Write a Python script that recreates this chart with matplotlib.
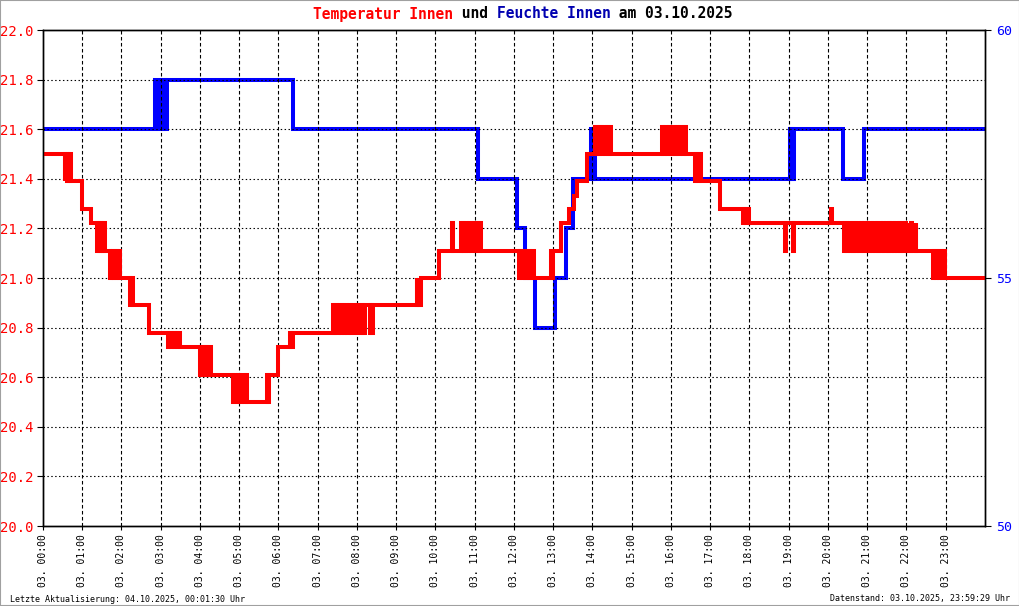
"""
Temperatur / Feuchte Innen, 03.10.2025 -- step chart with twin y axes.
"""
import matplotlib
matplotlib.use("Agg")
import matplotlib.pyplot as plt
from matplotlib.patches import Rectangle

MONO = "DejaVu Sans Mono"
RED = "#ff0000"
BLUE = "#0000ff"

# temperature change points (hour of day, deg C), drawn as post-steps
temp_hours = [
    0.00,
    0.55, 0.57, 0.62, 0.64, 0.67, 0.69, 0.71,
    0.99, 1.22,
    1.37, 1.39, 1.42, 1.45, 1.47, 1.50, 1.52, 1.55, 1.57,
    1.70, 1.72, 1.76, 1.79, 1.82, 1.85, 1.88, 1.91, 1.95,
    2.22, 2.25, 2.30, 2.69,
    3.18, 3.21, 3.25, 3.29, 3.33, 3.37, 3.41, 3.44, 3.48,
    3.99, 4.02, 4.06, 4.09, 4.12, 4.16, 4.19, 4.23, 4.27,
    4.83, 4.86, 4.93, 4.97, 5.03, 5.07, 5.12, 5.16, 5.19,
    5.70, 5.72, 5.75, 6.00, 6.30, 6.32, 6.36,
    7.38, 7.41, 7.45, 7.50, 7.54, 7.58, 7.62, 7.66, 7.70, 7.75, 7.79, 7.84,
    7.88, 7.93, 7.97, 7.99, 8.02, 8.09, 8.13, 8.16, 8.20, 8.32, 8.36, 8.38, 8.40,
    9.52, 9.54, 9.57, 9.59, 9.62, 10.08,
    10.42, 10.45, 10.64, 10.67, 10.70, 10.73, 10.77, 10.81, 10.85, 10.90,
    10.95, 11.00, 11.03, 11.07, 11.10, 11.14, 11.17, 11.21,
    12.12, 12.15, 12.19, 12.23, 12.27, 12.30, 12.34, 12.37, 12.40, 12.47, 12.50,
    12.94, 12.97, 13.00, 13.21, 13.39, 13.54, 13.60, 13.85,
    14.06, 14.09, 14.12, 14.16, 14.19, 14.24, 14.27, 14.33, 14.36, 14.40, 14.43, 14.48,
    15.76, 15.80, 15.84, 15.90, 15.94, 16.00, 16.04, 16.10, 16.13, 16.19, 16.23,
    16.30, 16.33, 16.37,
    16.62, 16.64, 16.70, 16.72, 16.76, 17.24,
    17.83, 17.86, 17.90, 17.93, 17.99,
    18.90, 18.94, 19.10, 19.14, 20.07, 20.10,
    20.41, 20.44, 20.49, 20.52, 20.56, 20.61, 20.63, 20.67, 20.72, 20.75, 20.79,
    20.84, 20.87, 20.91, 20.96, 20.99, 21.03, 21.08, 21.11, 21.15, 21.19, 21.24,
    21.27, 21.31, 21.36, 21.39, 21.43, 21.47, 21.52, 21.55, 21.59, 21.64, 21.67,
    21.71, 21.75, 21.80, 21.83, 21.87, 21.92, 21.95, 21.99, 22.03, 22.05, 22.11,
    22.13, 22.23, 22.25,
    22.67, 22.70, 22.74, 22.78, 22.82, 22.86, 22.90, 22.94, 22.98,
    24.00,
]
temp_values = [
    21.50,
    21.39, 21.50, 21.39, 21.50, 21.39, 21.50, 21.39,
    21.28, 21.22,
    21.11, 21.22, 21.11, 21.22, 21.11, 21.22, 21.11, 21.22, 21.11,
    21.00, 21.11, 21.00, 21.11, 21.00, 21.11, 21.00, 21.11, 21.00,
    20.89, 21.00, 20.89, 20.78,
    20.72, 20.78, 20.72, 20.78, 20.72, 20.78, 20.72, 20.78, 20.72,
    20.61, 20.72, 20.61, 20.72, 20.61, 20.72, 20.61, 20.72, 20.61,
    20.50, 20.61, 20.50, 20.61, 20.50, 20.61, 20.50, 20.61, 20.50,
    20.61, 20.50, 20.61, 20.72, 20.78, 20.72, 20.78,
    20.89, 20.78, 20.89, 20.78, 20.89, 20.78, 20.89, 20.78, 20.89, 20.78, 20.89, 20.78,
    20.89, 20.78, 20.89, 20.78, 20.89, 20.78, 20.89, 20.78, 20.89, 20.78, 20.89, 20.78, 20.89,
    21.00, 20.89, 21.00, 20.89, 21.00, 21.11,
    21.22, 21.11, 21.22, 21.11, 21.22, 21.11, 21.22, 21.11, 21.22, 21.11,
    21.11, 21.22, 21.11, 21.22, 21.11, 21.22, 21.11, 21.11,
    21.00, 21.11, 21.00, 21.11, 21.00, 21.11, 21.00, 21.11, 21.00, 21.11, 21.00,
    21.11, 21.00, 21.11, 21.22, 21.28, 21.33, 21.39, 21.50,
    21.61, 21.50, 21.61, 21.50, 21.61, 21.50, 21.61, 21.50, 21.61, 21.50, 21.61, 21.50,
    21.61, 21.50, 21.61, 21.50, 21.61, 21.50, 21.61, 21.50, 21.61, 21.50, 21.61,
    21.50, 21.61, 21.50,
    21.39, 21.50, 21.39, 21.50, 21.39, 21.28,
    21.22, 21.28, 21.22, 21.28, 21.22,
    21.11, 21.22, 21.11, 21.22, 21.28, 21.22,
    21.11, 21.22, 21.11, 21.22, 21.11, 21.22, 21.11, 21.22, 21.11, 21.22, 21.11,
    21.22, 21.11, 21.22, 21.11, 21.22, 21.11, 21.22, 21.11, 21.22, 21.11, 21.22,
    21.11, 21.22, 21.11, 21.22, 21.11, 21.22, 21.11, 21.22, 21.11, 21.22, 21.11,
    21.22, 21.11, 21.22, 21.11, 21.22, 21.11, 21.22, 21.11, 21.22, 21.11, 21.22,
    21.11, 21.22, 21.11,
    21.00, 21.11, 21.00, 21.11, 21.00, 21.11, 21.00, 21.11, 21.00,
    21.00,
]

# humidity change points (hour of day, %)
hum_hours = [0.00, 2.86, 2.95, 3.03, 3.06, 3.09, 3.12, 3.15, 6.36, 11.08,
             12.08, 12.27, 12.53, 13.04, 13.33, 13.50, 13.95, 14.01, 14.03,
             14.07, 19.02, 19.05, 19.08, 19.11, 19.14, 20.38, 20.91, 24.00]
hum_values = [58, 59, 58, 59, 58, 59, 58, 59, 58, 57,
              56, 55, 54, 55, 56, 57, 58, 57, 58,
              57, 58, 57, 58, 57, 58, 57, 58, 58]

hour_ticks = list(range(24))
hour_labels = [f"03. {h:02d}:00" for h in hour_ticks]
temp_ticks = [20.0, 20.2, 20.4, 20.6, 20.8, 21.0, 21.2, 21.4, 21.6, 21.8, 22.0]
hum_ticks = [50, 55, 60]


def main() -> None:
    fig = plt.figure(figsize=(10.2, 6.06), dpi=100, facecolor="white")
    ax = fig.add_axes([43 / 1020, 80 / 606, 942 / 1020, 496 / 606])
    ax2 = ax.twinx()
    # temperature on top of humidity
    ax.set_zorder(2)
    ax2.set_zorder(1)
    ax.patch.set_visible(False)

    ax2.step(hum_hours, hum_values, where="post", color=BLUE, lw=2.9,
             solid_joinstyle="miter")
    ax.step(temp_hours, temp_values, where="post", color=RED, lw=2.9,
            solid_joinstyle="miter")

    ax.set_xlim(0, 24)
    ax.set_ylim(20.0, 22.0)
    ax2.set_ylim(50, 60)

    ax.set_xticks(hour_ticks)
    ax.set_xticklabels(hour_labels, rotation=90, fontfamily=MONO, fontsize=7)
    ax.set_yticks(temp_ticks)
    ax.set_yticklabels([f"{t:.1f}" for t in temp_ticks], fontfamily=MONO,
                       fontsize=10, color=RED)
    ax2.set_yticks(hum_ticks)
    ax2.set_yticklabels([str(h) for h in hum_ticks], fontfamily=MONO,
                        fontsize=9.5, color=BLUE)

    ax.tick_params(axis="x", length=3, width=0.8, pad=3)
    ax.tick_params(axis="y", length=4, width=0.8, pad=3)
    ax2.tick_params(axis="y", length=4, width=0.8, pad=4)

    # grid: dotted horizontals, dashed verticals
    for t in temp_ticks[1:-1]:
        ax.axhline(t, color="black", lw=0.8, ls=(0, (1.3, 2.2)), zorder=0)
    for h in hour_ticks[1:]:
        ax.axvline(h, color="black", lw=0.8, ls=(0, (3.2, 2.2)), zorder=0)

    for a in (ax, ax2):
        for s in a.spines.values():
            s.set_linewidth(1.0)
            s.set_color("black")

    # title in coloured pieces
    parts = [("Temperatur Innen", RED), (" und ", "black"),
             ("Feuchte Innen", "#0000b0"), (" am 03.10.2025", "black")]
    t = fig.text(313 / 1020, 1 - 14 / 606, parts[0][0], color=parts[0][1],
                 fontfamily=MONO, fontsize=10.5, fontweight="bold", va="center")
    for txt, col in parts[1:]:
        t = ax.annotate(txt, xy=(1, 0), xycoords=t, va="bottom", color=col,
                        fontfamily=MONO, fontsize=10.5, fontweight="bold",
                        annotation_clip=False)

    fig.text(10 / 1020, 1 - 599 / 606,
             "Letzte Aktualisierung: 04.10.2025, 00:01:30 Uhr",
             fontfamily=MONO, fontsize=6, va="center", ha="left")
    fig.text(1010 / 1020, 1 - 599 / 606,
             "Datenstand: 03.10.2025, 23:59:29 Uhr",
             fontfamily=MONO, fontsize=6, va="center", ha="right")

    fig.add_artist(Rectangle((0, 0), 1, 1, transform=fig.transFigure,
                             fill=False, edgecolor="#a0a0a0", lw=1.5))

    fig.savefig("out.png", dpi=100)
    plt.close(fig)


if __name__ == "__main__":
    main()
